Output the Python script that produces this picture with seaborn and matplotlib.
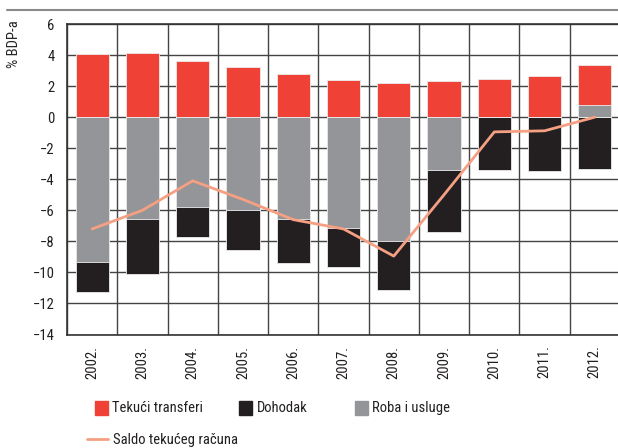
import numpy as np
import matplotlib
matplotlib.use("Agg")
import matplotlib.pyplot as plt
import seaborn as sns
from matplotlib.lines import Line2D
from matplotlib.patches import Patch

years = ['2002.', '2003.', '2004.', '2005.', '2006.', '2007.',
         '2008.', '2009.', '2010.', '2011.', '2012.']
transferi = [4.05, 4.1, 3.6, 3.25, 2.75, 2.38, 2.23, 2.3, 2.43, 2.62, 2.6]
dohodak = [-1.97, -3.53, -1.94, -2.58, -2.86, -2.5, -3.2, -3.97, -3.42, -3.5, -3.37]
roba = [-9.3, -6.58, -5.76, -5.95, -6.54, -7.16, -7.96, -3.4, 0.0, 0.0, 0.77]
saldo = [-7.2, -6.0, -4.1, -5.3, -6.6, -7.2, -8.95, -5.0, -0.95, -0.88, 0.0]

c_red = '#EF4136'
c_black = '#231F20'
c_gray = '#939598'
c_line = '#F5A083'

sns.set_style('white')
plt.rcParams['font.family'] = ['Roboto Condensed', 'Archivo Narrow', 'Liberation Sans', 'DejaVu Sans']
plt.rcParams['text.color'] = c_black

fig = plt.figure(figsize=(6.18, 4.48), dpi=100)
ax = fig.add_axes([67/618, 1 - 334.5/448, 553/618, 310.5/448])

r = np.array(roba)
red_top = np.maximum(r, 0) + np.array(transferi)
black_bot = np.minimum(r, 0) + np.array(dohodak)

bar_kw = dict(width=0.66, saturation=1, ax=ax, edgecolor='#ececec', linewidth=0.6, zorder=3)
sns.barplot(x=years, y=red_top, color=c_red, **bar_kw)
sns.barplot(x=years, y=black_bot, color=c_black, **bar_kw)
sns.barplot(x=years, y=roba, color=c_gray, **bar_kw)
sns.lineplot(x=np.arange(len(years)), y=saldo, color=c_line, linewidth=2, ax=ax, zorder=4)

ax.set_xlim(-0.5, len(years) - 0.5)
ax.set_ylim(-14, 6)
ax.set_yticks(np.arange(-14, 7, 2))
ax.set_yticklabels([str(v).replace('-', '\u2212') for v in range(-14, 7, 2)])
ax.set_xticks(np.arange(-0.5, len(years), 1), minor=True)
ax.grid(False)
ax.grid(which='major', axis='y', color='#444444', linewidth=1.0, zorder=0)
ax.grid(which='minor', axis='x', color='#444444', linewidth=1.0, zorder=0)
ax.set_axisbelow(True)
ax.tick_params(axis='both', which='both', length=0, labelsize=10.5, colors=c_black)
ax.tick_params(axis='y', pad=9)
ax.tick_params(axis='x', pad=8)
plt.setp(ax.get_xticklabels(), rotation=90)
ax.set_xlabel('')
for s in ['left', 'bottom', 'top']:
    ax.spines[s].set_color('#333333')
    ax.spines[s].set_linewidth(1.2)
ax.spines['right'].set_visible(False)

ax.set_ylabel('% BDP-a', fontsize=10.5, loc='top')
ax.yaxis.set_label_coords(-0.083, 1.013)

fig.add_artist(Line2D([7/618, 1], [1 - 10/448] * 2, color='#8a8a8a', linewidth=1.5))

fs = 10.5
def add_item(handle, text, x, y, hl, hh=1.1):
    fig.legend([handle], [text], loc='center left', bbox_to_anchor=(x/618, 1 - y/448),
               frameon=False, fontsize=fs, handlelength=hl, handleheight=hh,
               handletextpad=0.3, borderpad=0, borderaxespad=0)

add_item(Patch(color=c_red), 'Tekući transferi', 95, 408, 0.9)
add_item(Patch(color=c_black), 'Dohodak', 239, 408, 0.9)
add_item(Patch(color=c_gray), 'Roba i usluge', 355, 408, 0.9)
add_item(Line2D([], [], color=c_line, linewidth=2), 'Saldo tekućeg računa', 87, 440, 1.45, 0.7)

fig.savefig('out.png', dpi=100)
